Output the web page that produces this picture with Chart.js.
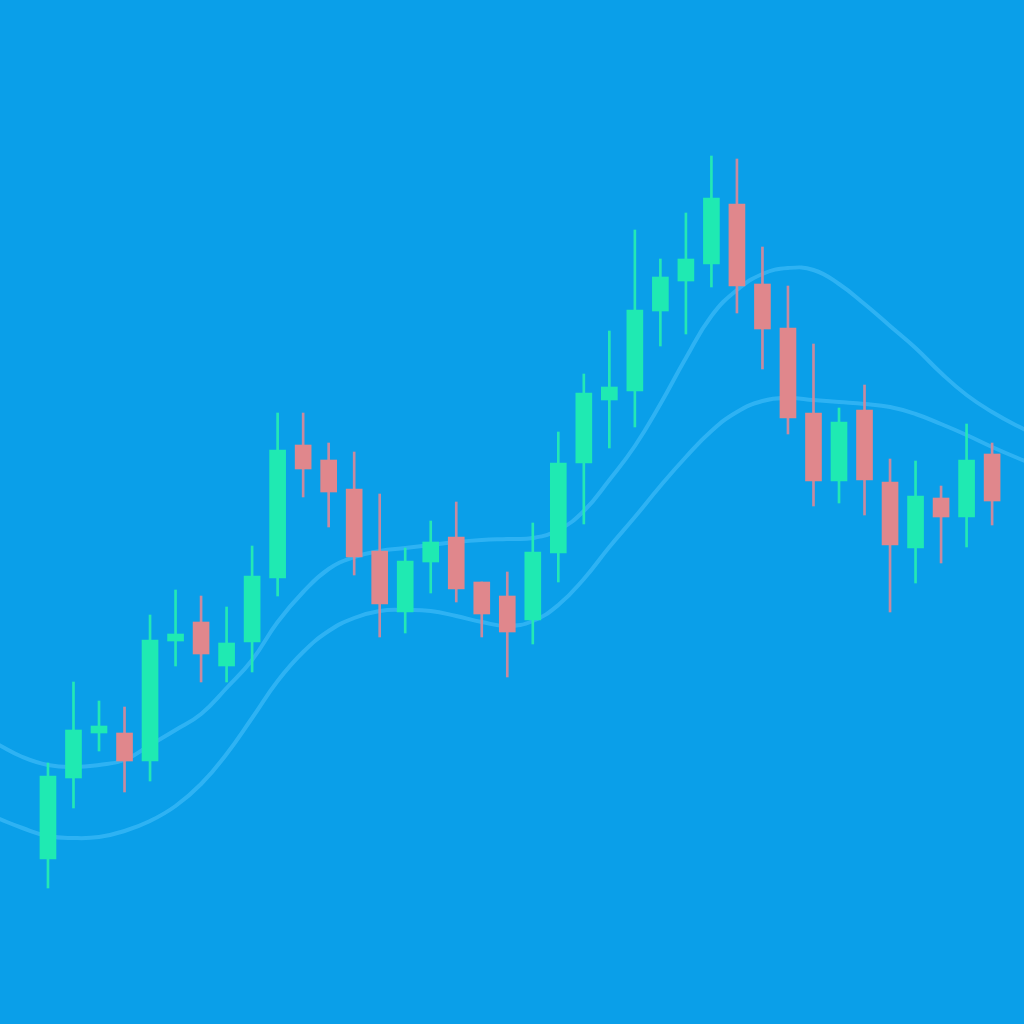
<!DOCTYPE html>
<html>
<head>
<meta charset="utf-8">
<script src="https://cdn.jsdelivr.net/npm/chart.js@4.4.1/dist/chart.umd.min.js"></script>
<style>
  html, body { margin: 0; padding: 0; background: #0a9fe9; }
  canvas { display: block; }
</style>
</head>
<body>
<canvas id="chart" width="1024" height="1024"></canvas>
<script>
// candle data (one entry per session)
const opens  = [165, 246, 291, 291, 263, 383, 402, 358, 382, 446, 579, 564, 535, 473, 412, 462, 487, 442, 428, 404,
                471, 561, 624, 633, 713, 743, 760, 820, 740, 696, 611, 543, 614, 542, 476, 526, 507, 570];
const highs  = [261, 342, 323, 317, 409, 434, 428, 417, 478, 611, 611, 581, 572, 530, 476, 503, 522, 442, 452, 501,
                592, 650, 693, 794, 765, 811, 868, 865, 777, 738, 680, 616, 639, 565, 563, 538, 600, 581];
const lows   = [136, 216, 273, 232, 243, 358, 342, 342, 352, 428, 527, 497, 449, 387, 391, 431, 422, 387, 347, 380,
                442, 500, 576, 597, 678, 690, 737, 711, 655, 590, 518, 521, 509, 412, 441, 461, 477, 499];
const closes = [248, 294, 298, 263, 384, 390, 370, 381, 448, 574, 555, 532, 467, 420, 463, 482, 435, 410, 392, 472,
                561, 631, 637, 714, 747, 765, 826, 738, 695, 606, 543, 602, 544, 479, 528, 507, 564, 523];

// moving averages, starting two sessions before the first candle and ending two after the last
const maFast = [280, 267, 259, 257, 259, 264, 279, 294, 310, 336, 364, 402, 432, 455, 467, 473, 476, 479, 482, 484,
                485, 486, 494, 513, 544, 578, 620, 666, 708, 734, 750, 756, 754, 740, 720, 698, 676, 651, 629, 612, 598, 586];
const maSlow = [206, 196, 188, 186, 187, 193, 203, 218, 240, 270, 306, 343, 372, 393, 406, 413, 414, 413, 408, 402,
                398, 403, 419, 445, 477, 507, 538, 567, 593, 612, 623, 626, 624, 622, 620, 617, 610, 600, 589, 577, 566, 556];
const maStart = -2;

const upColor = '#1feab2';
const downColor = '#e0878c';
const upWick = '#24e8b4';
const downWick = '#c98a9e';

const bodies = opens.map((o, i) => ({ x: i, y: [o, closes[i]] }));
const wicks = lows.map((l, i) => ({ x: i, y: [l, highs[i]] }));
const isUp = opens.map((o, i) => closes[i] >= o);

const fastPts = maFast.map((v, i) => ({ x: i + maStart, y: v }));
const slowPts = maSlow.map((v, i) => ({ x: i + maStart, y: v }));

const ctx = document.getElementById('chart').getContext('2d');
new Chart(ctx, {
    data: {
        datasets: [
            {
                type: 'bar',
                label: 'Body',
                data: bodies,
                backgroundColor: isUp.map(u => u ? upColor : downColor),
                borderWidth: 0,
                barThickness: 16,
                grouped: false,
                order: 1
            },
            {
                type: 'bar',
                label: 'Wick',
                data: wicks,
                backgroundColor: isUp.map(u => u ? upWick : downWick),
                borderWidth: 0,
                barThickness: 2,
                grouped: false,
                order: 2
            },
            {
                type: 'line',
                label: 'MA fast',
                data: fastPts,
                borderColor: 'rgba(70, 192, 250, 0.6)',
                borderWidth: 4,
                pointRadius: 0,
                tension: 0.45,
                order: 3
            },
            {
                type: 'line',
                label: 'MA slow',
                data: slowPts,
                borderColor: 'rgba(70, 192, 250, 0.6)',
                borderWidth: 4,
                pointRadius: 0,
                tension: 0.45,
                order: 3
            }
        ]
    },
    options: {
        responsive: false,
        animation: false,
        layout: { padding: 0 },
        plugins: {
            legend: { display: false },
            tooltip: { enabled: false }
        },
        scales: {
            x: { type: 'linear', display: false, min: -1.88, max: 38.25, offset: false },
            y: { display: false, min: 0, max: 1024 }
        }
    }
});
</script>
</body>
</html>
